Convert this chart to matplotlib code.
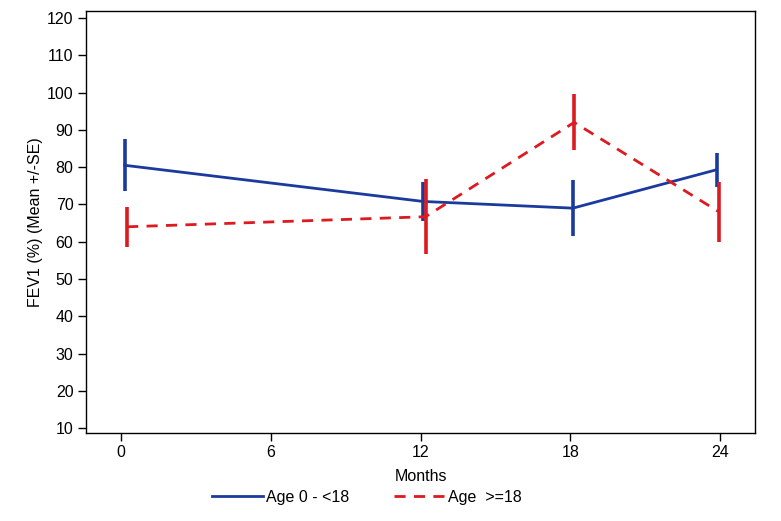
import numpy as np
import matplotlib.pyplot as plt

plt.rcParams['font.family'] = ['Liberation Sans', 'DejaVu Sans']

# values
months_young = [0.15, 12.1, 18.1, 23.85]
mean_young = [80.5, 70.8, 69.0, 79.3]
se_young = [7.0, 5.3, 7.5, 4.5]

months_adult = [0.25, 12.2, 18.15, 23.95]
mean_adult = [64.0, 66.7, 92.0, 68.0]
se_adult = [5.3, 10.0, 7.5, 8.0]

xticks = [0, 6, 12, 18, 24]
yticks = np.arange(10, 121, 10)

blue = '#1b3a9e'
red = '#dc1a20'

fig = plt.figure(figsize=(7.81, 5.21), dpi=100)
ax = fig.add_axes([0.110, 0.169, 0.857, 0.810])

ax.plot(months_young, mean_young, '-', color=blue, lw=2, label='Age 0 - <18')
ax.errorbar(months_young, mean_young, yerr=se_young, fmt='none', ecolor=blue,
            elinewidth=2.6, capsize=0)
ax.plot(months_adult, mean_adult, '--', color=red, lw=2, dashes=(4, 3), label='Age  >=18')
ax.errorbar(months_adult, mean_adult, yerr=se_adult, fmt='none', ecolor=red,
            elinewidth=2.6, capsize=0)

ax.set_xlim(-1.4, 25.4)
ax.set_ylim(8.7, 121.9)
ax.set_xticks(xticks)
ax.set_yticks(yticks)
ax.tick_params(direction='out', length=6, width=1, labelsize=11.5, color='black', pad=3)
for s in ax.spines.values():
    s.set_linewidth(1)
    s.set_color('black')

ax.set_xlabel('Months', fontsize=11.5, labelpad=6)
ax.set_ylabel('FEV1 (%) (Mean +/-SE)', fontsize=11.5, labelpad=3)

fig.legend(loc='lower center', bbox_to_anchor=(0.47, 0.003), ncol=2, frameon=False,
           fontsize=11.5, handlelength=3.2, columnspacing=2.8, handletextpad=0.2)

fig.savefig('out.png', dpi=100)
